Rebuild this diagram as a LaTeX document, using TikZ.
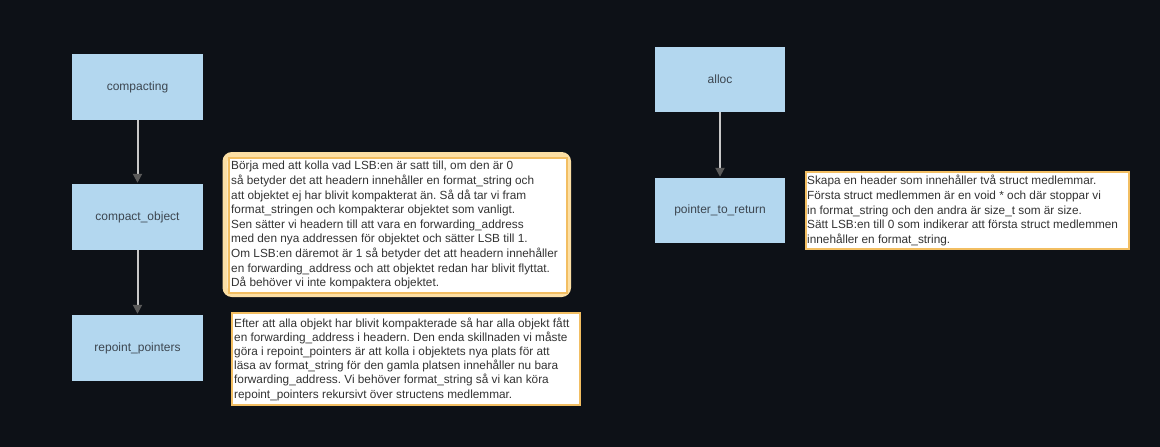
\documentclass[tikz,border=0pt]{standalone}
\usepackage{fontspec}
\setmainfont{Liberation Sans}
\usetikzlibrary{arrows.meta}
\definecolor{bg}{HTML}{0D1117}
\definecolor{boxfill}{HTML}{B3D7EF}
\definecolor{boxtext}{HTML}{3C4650}
\definecolor{notetext}{HTML}{333333}
\definecolor{noteborder}{HTML}{F2BE62}
\definecolor{noteglow}{HTML}{FCDFA4}
\definecolor{linegray}{HTML}{C8C8C8}
\definecolor{headgray}{HTML}{5A5A5A}
\frenchspacing
\begin{document}
\begin{tikzpicture}[x=1pt,y=-1pt,
  procbox/.style={rectangle,fill=boxfill,draw=none,minimum width=131pt,minimum height=66pt,
    inner sep=0pt,font=\fontsize{12}{14}\selectfont,text=boxtext},
  noteframe/.style={rectangle,fill=white,draw=noteborder,line width=2pt,anchor=north west,inner sep=0pt},
  notetxt/.style={anchor=west,align=left,inner sep=0pt,text=notetext}
]
\tikzset{flow/.style={draw=linegray,line width=2pt,-{Triangle[length=9pt,width=9pt,color=headgray]},shorten >=1pt}}
\fill[bg] (0,0) rectangle (1160,447);
\useasboundingbox (0,0) rectangle (1160,447);

\node[procbox] (compacting) at (137.5,87) {compacting};
\node[procbox] (compactobj) at (137.5,217) {compact\_object};
\node[procbox] (repoint) at (137.5,348) {repoint\_pointers};
\node[procbox,minimum width=130pt,minimum height=65pt] (alloc) at (720,79.5) {alloc};
\node[procbox,minimum width=130pt,minimum height=65pt] (ptr) at (720,210.5) {pointer\_to\_return};

\draw[flow] (compacting.south) -- (compactobj.north);
\draw[flow] (compactobj.south) -- (repoint.north);
\draw[flow] (alloc.south) -- (ptr.north);

% compact note with glow
\draw[noteglow,line width=5pt,rounded corners=7pt,fill=white] (225,154.5) rectangle (568.5,294.5);
\node[noteframe,minimum width=338pt,minimum height=135pt,line width=1.5pt] (cnote) at (228,157) {};
\node[notetxt,font=\fontsize{11.8}{14.6}\selectfont] (ctext) at ([xshift=3pt]cnote.west)
{Börja med att kolla vad LSB:en är satt till, om den är 0\\
så betyder det att headern innehåller en format\_string och\\
att objektet ej har blivit kompakterat än. Så då tar vi fram\\
format\_stringen och kompakterar objektet som vanligt.\\
Sen sätter vi headern till att vara en forwarding\_address\\
med den nya addressen för objektet och sätter LSB till 1.\\
Om LSB:en däremot är 1 så betyder det att headern innehåller\\
en forwarding\_address och att objektet redan har blivit flyttat.\\
Då behöver vi inte kompaktera objektet.};

\node[noteframe,minimum width=348pt,minimum height=92pt] (rnote) at (231,312) {};
\node[notetxt,font=\fontsize{11.8}{14.2}\selectfont] (rtext) at ([xshift=3pt]rnote.west)
{Efter att alla objekt har blivit kompakterade så har alla objekt fått\\
en forwarding\_address i headern. Den enda skillnaden vi måste\\
göra i repoint\_pointers är att kolla i objektets nya plats för att\\
läsa av format\_string för den gamla platsen innehåller nu bara\\
forwarding\_address. Vi behöver format\_string så vi kan köra\\
repoint\_pointers rekursivt över structens medlemmar.};

\node[noteframe,minimum width=323pt,minimum height=77pt] (pnote) at (805,171) {};
\node[notetxt,font=\fontsize{11.8}{14.7}\selectfont] (ptext) at ([xshift=2pt]pnote.west)
{Skapa en header som innehåller två struct medlemmar.\\
Första struct medlemmen är en void * och där stoppar vi\\
in format\_string och den andra är size\_t som är size.\\
Sätt LSB:en till 0 som indikerar att första struct medlemmen\\
innehåller en format\_string.};
\end{tikzpicture}
\end{document}
